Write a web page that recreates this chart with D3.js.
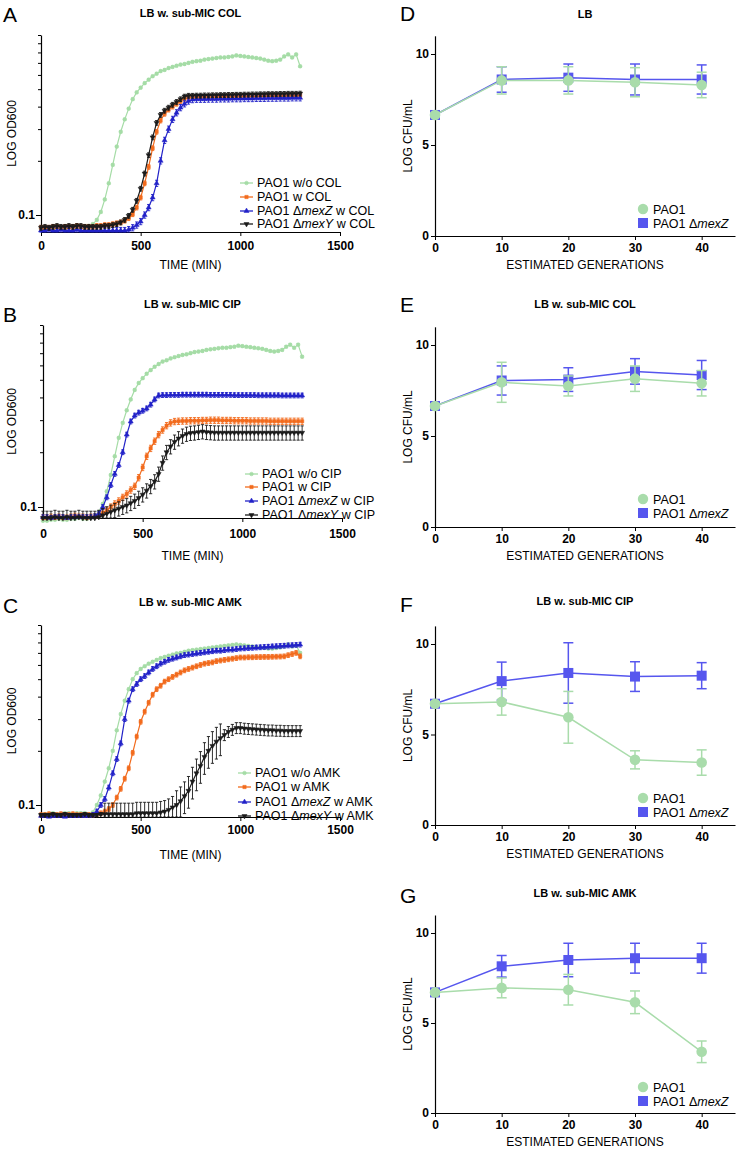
<!DOCTYPE html>
<html><head><meta charset="utf-8">
<script src="https://cdn.jsdelivr.net/npm/d3@7"></script>
<style>
body{margin:0;background:#fff}
svg{display:block}
text{font-family:"Liberation Sans",Arial,Helvetica,sans-serif;fill:#000}
</style>
</head><body>
<svg id="c" width="737" height="1150"></svg>
<script>
// ---------- growth curves (OD600), sampled every 20 min ----------
const timeMin = d3.range(0, 1301, 20);
const timeTicks = [0, 500, 1000, 1500];
const odTicks = [0.1, 0.2, 0.3, 0.4, 0.5, 0.6, 0.7, 0.8, 0.9, 1.0];

// Panel A: LB w. sub-MIC COL
const colPAO1wo = [0.084,0.084,0.085,0.085,0.086,0.085,0.085,0.086,0.086,0.087,0.086,0.086,0.087,0.089,0.094,0.104,0.122,0.15,0.19,0.24,0.29,0.34,0.39,0.44,0.48,0.51,0.54,0.565,0.59,0.61,0.63,0.64,0.655,0.665,0.675,0.685,0.69,0.70,0.71,0.715,0.72,0.73,0.735,0.74,0.745,0.75,0.75,0.755,0.76,0.77,0.765,0.76,0.755,0.75,0.745,0.74,0.73,0.72,0.715,0.72,0.73,0.76,0.78,0.75,0.78,0.67];
const colPAO1w = [0.085,0.085,0.085,0.086,0.086,0.085,0.086,0.086,0.086,0.087,0.086,0.086,0.086,0.086,0.087,0.087,0.088,0.088,0.089,0.09,0.091,0.093,0.096,0.101,0.11,0.125,0.15,0.185,0.235,0.29,0.335,0.365,0.385,0.4,0.415,0.43,0.442,0.45,0.452,0.452,0.453,0.453,0.454,0.454,0.455,0.455,0.455,0.456,0.456,0.457,0.457,0.457,0.458,0.458,0.458,0.459,0.459,0.46,0.46,0.46,0.461,0.461,0.462,0.462,0.462,0.463];
const colMexZ = [0.082,0.082,0.083,0.082,0.082,0.083,0.082,0.082,0.082,0.083,0.082,0.082,0.082,0.082,0.082,0.082,0.082,0.082,0.082,0.082,0.082,0.082,0.083,0.085,0.088,0.092,0.1,0.11,0.125,0.15,0.2,0.26,0.3,0.34,0.37,0.395,0.415,0.43,0.438,0.44,0.44,0.44,0.441,0.441,0.441,0.442,0.442,0.442,0.443,0.443,0.443,0.444,0.444,0.444,0.445,0.445,0.445,0.446,0.446,0.446,0.447,0.447,0.447,0.448,0.448,0.448];
const colMexY = [0.085,0.086,0.085,0.086,0.087,0.086,0.086,0.087,0.086,0.087,0.087,0.086,0.086,0.086,0.086,0.086,0.087,0.087,0.088,0.089,0.091,0.094,0.099,0.107,0.12,0.14,0.17,0.215,0.27,0.325,0.36,0.38,0.395,0.41,0.425,0.44,0.455,0.46,0.46,0.461,0.461,0.462,0.462,0.463,0.463,0.464,0.464,0.465,0.465,0.466,0.466,0.467,0.467,0.468,0.468,0.469,0.469,0.47,0.47,0.47,0.471,0.471,0.472,0.472,0.472,0.473];
const colRelErr = [0.015, 0.03, 0.04, 0.03];

// Panel B: LB w. sub-MIC CIP
const cipPAO1wo = [0.084,0.084,0.085,0.085,0.086,0.085,0.085,0.086,0.086,0.087,0.086,0.086,0.087,0.089,0.094,0.104,0.122,0.15,0.19,0.24,0.29,0.34,0.39,0.44,0.48,0.51,0.54,0.565,0.59,0.61,0.63,0.64,0.655,0.665,0.675,0.685,0.69,0.70,0.71,0.715,0.72,0.73,0.735,0.74,0.745,0.75,0.75,0.755,0.76,0.77,0.765,0.76,0.755,0.75,0.745,0.74,0.73,0.72,0.715,0.72,0.73,0.76,0.78,0.75,0.78,0.67];
const cipPAO1w = [0.087,0.087,0.088,0.087,0.088,0.087,0.087,0.088,0.089,0.088,0.088,0.087,0.088,0.088,0.09,0.093,0.096,0.1,0.104,0.108,0.113,0.118,0.124,0.13,0.145,0.165,0.19,0.21,0.23,0.25,0.265,0.28,0.29,0.295,0.296,0.297,0.297,0.298,0.298,0.298,0.299,0.299,0.3,0.3,0.3,0.299,0.299,0.299,0.298,0.298,0.298,0.298,0.297,0.297,0.297,0.297,0.297,0.296,0.296,0.296,0.296,0.296,0.296,0.296,0.296,0.296];
const cipMexZ = [0.088,0.088,0.087,0.088,0.088,0.088,0.087,0.088,0.088,0.088,0.088,0.088,0.088,0.089,0.092,0.1,0.113,0.132,0.152,0.17,0.2,0.25,0.295,0.318,0.33,0.338,0.348,0.365,0.39,0.41,0.412,0.412,0.413,0.413,0.413,0.414,0.414,0.414,0.414,0.414,0.414,0.414,0.413,0.413,0.413,0.413,0.413,0.413,0.412,0.412,0.412,0.412,0.412,0.412,0.411,0.411,0.411,0.411,0.411,0.411,0.41,0.41,0.41,0.41,0.41,0.41];
const cipMexY = [0.087,0.087,0.087,0.088,0.087,0.087,0.088,0.087,0.087,0.088,0.087,0.087,0.087,0.087,0.088,0.09,0.092,0.094,0.096,0.098,0.1,0.102,0.105,0.108,0.112,0.117,0.123,0.13,0.138,0.152,0.175,0.2,0.215,0.228,0.238,0.246,0.252,0.255,0.256,0.258,0.26,0.258,0.257,0.256,0.256,0.256,0.256,0.256,0.256,0.256,0.256,0.256,0.256,0.256,0.256,0.256,0.256,0.256,0.256,0.256,0.256,0.256,0.256,0.256,0.256,0.256];
const cipRelErr = [0.015, 0.04, 0.03, 0.09];

// Panel C: LB w. sub-MIC AMK
const amkPAO1wo = [0.088,0.089,0.089,0.09,0.089,0.089,0.09,0.09,0.089,0.09,0.09,0.09,0.089,0.091,0.1,0.113,0.135,0.16,0.2,0.26,0.32,0.38,0.44,0.5,0.54,0.57,0.59,0.61,0.625,0.64,0.655,0.665,0.675,0.685,0.695,0.7,0.71,0.72,0.725,0.73,0.735,0.74,0.745,0.75,0.755,0.76,0.765,0.77,0.775,0.78,0.775,0.77,0.765,0.76,0.755,0.75,0.745,0.74,0.74,0.745,0.75,0.76,0.78,0.76,0.77,0.7];
const amkPAO1w = [0.088,0.088,0.089,0.088,0.088,0.089,0.088,0.088,0.089,0.088,0.088,0.088,0.088,0.088,0.089,0.09,0.092,0.095,0.1,0.11,0.123,0.14,0.16,0.195,0.24,0.29,0.33,0.37,0.41,0.44,0.46,0.485,0.5,0.515,0.53,0.545,0.56,0.57,0.58,0.59,0.6,0.61,0.615,0.62,0.63,0.635,0.64,0.645,0.65,0.655,0.66,0.66,0.662,0.662,0.664,0.664,0.665,0.665,0.666,0.667,0.668,0.67,0.68,0.69,0.70,0.67];
const amkMexZ = [0.087,0.087,0.086,0.087,0.087,0.087,0.086,0.087,0.087,0.087,0.087,0.087,0.087,0.088,0.092,0.1,0.108,0.125,0.15,0.18,0.22,0.3,0.38,0.44,0.47,0.5,0.52,0.545,0.57,0.59,0.61,0.625,0.64,0.65,0.66,0.67,0.68,0.685,0.69,0.695,0.7,0.705,0.71,0.715,0.72,0.72,0.725,0.73,0.73,0.735,0.74,0.742,0.745,0.747,0.75,0.752,0.755,0.757,0.76,0.762,0.765,0.767,0.77,0.772,0.775,0.778];
const amkMexY = [0.088,0.088,0.088,0.089,0.088,0.088,0.089,0.088,0.088,0.088,0.088,0.089,0.088,0.088,0.088,0.089,0.089,0.089,0.089,0.089,0.089,0.089,0.089,0.089,0.09,0.09,0.09,0.09,0.09,0.09,0.091,0.092,0.094,0.097,0.1,0.105,0.112,0.12,0.135,0.15,0.165,0.185,0.2,0.213,0.225,0.235,0.245,0.255,0.262,0.268,0.268,0.266,0.265,0.264,0.263,0.262,0.261,0.26,0.26,0.259,0.259,0.258,0.258,0.258,0.258,0.258];
// relative error of the ΔmexY AMK curve, per time point (large during lag/rise)
const amkMexYErr = [0.02,0.02,0.02,0.02,0.02,0.02,0.02,0.02,0.02,0.02,0.02,0.02,0.02,0.02,0.02,0.02,0.15,0.15,0.15,0.15,0.15,0.15,0.15,0.15,0.15,0.15,0.15,0.15,0.15,0.15,0.15,0.15,0.15,0.15,0.2,0.2,0.2,0.2,0.2,0.2,0.2,0.2,0.2,0.2,0.2,0.2,0.07,0.07,0.07,0.07,0.07,0.07,0.07,0.07,0.07,0.07,0.07,0.07,0.07,0.07,0.07,0.07,0.07,0.07,0.07,0.07];
const amkRelErr = [0.015, 0.03, 0.03, amkMexYErr];

// ---------- CFU panels ----------
const generations = [0, 10, 20, 30, 40];
const genTicks = [0, 10, 20, 30, 40];
const cfuTicks = [0, 5, 10];
const lbPAO1 = [6.65, 8.55, 8.55, 8.45, 8.3];
const lbPAO1sd = [0.1, 0.75, 0.75, 0.8, 0.7];
const lbMexZ = [6.65, 8.6, 8.7, 8.6, 8.6];
const lbMexZsd = [0.1, 0.7, 0.75, 0.85, 0.8];
const colCfuPAO1 = [6.65, 7.95, 7.75, 8.15, 7.9];
const colCfuPAO1sd = [0.1, 1.1, 0.55, 0.7, 0.7];
const colCfuMexZ = [6.65, 8.05, 8.1, 8.55, 8.35];
const colCfuMexZsd = [0.1, 0.8, 0.65, 0.7, 0.8];
const cipCfuPAO1 = [6.7, 6.8, 5.95, 3.6, 3.45];
const cipCfuPAO1sd = [0.1, 0.73, 1.43, 0.5, 0.7];
const cipCfuMexZ = [6.7, 7.95, 8.4, 8.2, 8.25];
const cipCfuMexZsd = [0.1, 1.05, 1.67, 0.82, 0.72];
const amkCfuPAO1 = [6.7, 6.95, 6.85, 6.15, 3.4];
const amkCfuPAO1sd = [0.1, 0.55, 0.85, 0.63, 0.6];
const amkCfuMexZ = [6.7, 8.15, 8.5, 8.6, 8.6];
const amkCfuMexZsd = [0.1, 0.6, 0.93, 0.83, 0.83];

const svg = d3.select('#c');
const FONT = '"Liberation Sans",Arial,Helvetica,sans-serif';
const gCol = {green:'#a5dca6', orange:'#f26b1d', blue:'#2222c8', black:'#1b1b1b'};
const cCol = {green:'#a9dcab', blue:'#5656ee'};

function styleAxis(a){
  a.select('.domain').attr('stroke','#000').attr('stroke-width',1.2);
  a.selectAll('.tick line').attr('stroke','#000').attr('stroke-width',1);
  a.selectAll('.tick text').attr('font-size','12px').attr('font-weight','bold').attr('font-family',FONT).attr('fill','#000');
}

function labelParts(sel, parts){
  parts.forEach(p => {
    sel.append('tspan').text(p[0]).attr('font-style', p[1] ? 'italic' : 'normal');
  });
}

function marker(g, shape, color, cx, cy){
  const sym = {circle:d3.symbolCircle, square:d3.symbolSquare, tri:d3.symbolTriangle, tridown:d3.symbolTriangle}[shape];
  g.append('path').attr('d', d3.symbol().type(sym).size(11)())
    .attr('transform', `translate(${cx},${cy})` + (shape==='tridown' ? ' rotate(180)' : ''))
    .attr('fill', color).attr('stroke', color).attr('stroke-width',0.5);
}

function growth(c){
  const g = svg.append('g');
  const x = d3.scaleLinear().domain([0,1500]).range([c.x0, c.x1]);
  const base = d3.scaleLog().domain([0.1,1]).range([c.y01, c.yTop]);
  const low = base.invert(c.yBot);
  const y = d3.scaleLog().domain([low,1]).range([c.yBot, c.yTop]);

  const ax = g.append('g').attr('transform',`translate(0,${c.yBot})`)
    .call(d3.axisBottom(x).tickValues(timeTicks).tickSize(4).tickSizeOuter(0).tickPadding(c.xPad).tickFormat(d3.format('d')));
  styleAxis(ax);
  const ay = g.append('g').attr('transform',`translate(${c.x0},0)`)
    .call(d3.axisLeft(y).tickValues(odTicks).tickSize(3).tickSizeOuter(0).tickPadding(3).tickFormat(d => d === 0.1 ? '0.1' : ''));
  styleAxis(ay);
  ay.selectAll('.tick line').attr('x2', d => d === 0.1 ? -5 : -3);

  g.append('text').attr('x', (c.x0+c.x1)/2).attr('y', c.titleY).attr('text-anchor','middle')
    .attr('font-size','11px').attr('font-weight','bold').text(c.title);
  g.append('text').attr('x', 3).attr('y', c.letterY).attr('font-size','21px').text(c.letter);
  g.append('text').attr('x', (c.x0+c.x1)/2).attr('y', c.xTitleY).attr('text-anchor','middle')
    .attr('font-size','12px').text('TIME (MIN)');
  g.append('text').attr('transform',`translate(16,${(c.yTop+c.yBot)/2}) rotate(-90)`).attr('text-anchor','middle')
    .attr('font-size','12px').text('LOG OD600');

  const line = d3.line().x((d,i) => x(timeMin[i])).y(d => y(d));
  c.series.forEach((s, si) => {
    const sg = g.append('g');
    const n = Math.min(s.values.length, timeMin.length);
    const vals = s.values.slice(0, n);
    sg.append('path').attr('d', line(vals)).attr('fill','none').attr('stroke', s.color).attr('stroke-width',1.2);
    vals.forEach((v, i) => {
      const xx = x(timeMin[i]);
      const e = Array.isArray(s.err) ? s.err[i] : s.err;
      const lo = y(Math.max(low, v*(1 - e))), hi = y(v*(1 + e));
      sg.append('line').attr('x1',xx).attr('x2',xx).attr('y1',lo).attr('y2',hi).attr('stroke',s.color).attr('stroke-width',0.9);
      sg.append('line').attr('x1',xx-1.6).attr('x2',xx+1.6).attr('y1',hi).attr('y2',hi).attr('stroke',s.color).attr('stroke-width',0.9);
      sg.append('line').attr('x1',xx-1.6).attr('x2',xx+1.6).attr('y1',lo).attr('y2',lo).attr('stroke',s.color).attr('stroke-width',0.9);
      marker(sg, s.shape, s.color, xx, y(v));
    });
    const ly = c.legendY[si];
    const lg = g.append('g');
    lg.append('line').attr('x1', c.legendX).attr('x2', c.legendX+13).attr('y1', ly).attr('y2', ly).attr('stroke', s.color).attr('stroke-width',1.3);
    marker(lg, s.shape, s.color, c.legendX+6.5, ly);
    const t = lg.append('text').attr('x', c.legendX+17).attr('y', ly+4.3).attr('font-size','12.5px');
    labelParts(t, s.label);
  });
}

function cfu(c){
  const g = svg.append('g');
  const x = d3.scaleLinear().domain([0,45]).range([435, 735]);
  const y10 = d3.scaleLinear().domain([0,10]).range([c.y0, c.y10]);
  const y = d3.scaleLinear().domain([0,11]).range([c.y0, y10(11)]);

  const ax = g.append('g').attr('transform',`translate(0,${c.y0})`)
    .call(d3.axisBottom(x).tickValues(genTicks).tickSize(4).tickSizeOuter(0).tickPadding(3));
  styleAxis(ax);
  const ay = g.append('g').attr('transform',`translate(435,0)`)
    .call(d3.axisLeft(y).tickValues(cfuTicks).tickSize(4).tickSizeOuter(0).tickPadding(2));
  styleAxis(ay);

  g.append('text').attr('x', 585).attr('y', c.titleY).attr('text-anchor','middle')
    .attr('font-size','11px').attr('font-weight','bold').text(c.title);
  g.append('text').attr('x', 400).attr('y', c.letterY).attr('font-size','21px').text(c.letter);
  g.append('text').attr('x', 585).attr('y', c.y0 + 33).attr('text-anchor','middle')
    .attr('font-size','12px').text('ESTIMATED GENERATIONS');
  g.append('text').attr('transform',`translate(412,${(c.y0 + y(11))/2}) rotate(-90)`).attr('text-anchor','middle')
    .attr('font-size','12px').text('LOG CFU/mL');

  const line = d3.line().x((d,i) => x(generations[i])).y(d => y(d));
  const series = [
    {v:c.m, e:c.me, color:cCol.blue, shape:'square'},
    {v:c.p, e:c.pe, color:cCol.green, shape:'circle'}
  ];
  series.forEach(s => {
    const sg = g.append('g');
    sg.append('path').attr('d', line(s.v)).attr('fill','none').attr('stroke', s.color).attr('stroke-width',1.5);
    s.v.forEach((v,i) => {
      const xx = x(generations[i]);
      const lo = y(v - s.e[i]), hi = y(v + s.e[i]);
      sg.append('line').attr('x1',xx).attr('x2',xx).attr('y1',lo).attr('y2',hi).attr('stroke',s.color).attr('stroke-width',1.5);
      sg.append('line').attr('x1',xx-5).attr('x2',xx+5).attr('y1',hi).attr('y2',hi).attr('stroke',s.color).attr('stroke-width',1.5);
      sg.append('line').attr('x1',xx-5).attr('x2',xx+5).attr('y1',lo).attr('y2',lo).attr('stroke',s.color).attr('stroke-width',1.5);
      if (s.shape === 'square') {
        sg.append('rect').attr('x',xx-5).attr('y',y(v)-5).attr('width',10).attr('height',10).attr('fill',s.color);
      } else {
        sg.append('circle').attr('cx',xx).attr('cy',y(v)).attr('r',5.3).attr('fill',s.color);
      }
    });
  });
  const lg = g.append('g');
  lg.append('circle').attr('cx',643).attr('cy',c.legY).attr('r',5.2).attr('fill',cCol.green);
  lg.append('text').attr('x',653).attr('y',c.legY+4.5).attr('font-size','12.5px').text('PAO1');
  lg.append('rect').attr('x',638).attr('y',c.legY+14-5).attr('width',10).attr('height',10).attr('fill',cCol.blue);
  const t = lg.append('text').attr('x',653).attr('y',c.legY+14+4.5).attr('font-size','12.5px');
  labelParts(t, [['PAO1 Δ',false],['mexZ',true]]);
}

function gSeries(vals, err, name){
  return [
    {values:vals[0], err:err[0], color:gCol.green, shape:'circle', label:[[`PAO1 w/o ${name}`,false]]},
    {values:vals[1], err:err[1], color:gCol.orange, shape:'square', label:[[`PAO1 w ${name}`,false]]},
    {values:vals[2], err:err[2], color:gCol.blue, shape:'tri', label:[['PAO1 Δ',false],['mexZ',true],[` w ${name}`,false]]},
    {values:vals[3], err:err[3], color:gCol.black, shape:'tridown', label:[['PAO1 Δ',false],['mexY',true],[` w ${name}`,false]]}
  ];
}

growth({letter:'A', title:'LB w. sub-MIC COL', x0:41, x1:340, yTop:35, y01:215, yBot:232, xPad:5,
  titleY:17, letterY:22, xTitleY:269, legendX:240, legendY:[183,197,211,224],
  series:gSeries([colPAO1wo,colPAO1w,colMexZ,colMexY], colRelErr, 'COL')});
growth({letter:'B', title:'LB w. sub-MIC CIP', x0:43, x1:342, yTop:325, y01:507, yBot:518, xPad:7,
  titleY:308, letterY:322, xTitleY:560, legendX:245, legendY:[474,487,501,515],
  series:gSeries([cipPAO1wo,cipPAO1w,cipMexZ,cipMexY], cipRelErr, 'CIP')});
growth({letter:'C', title:'LB w. sub-MIC AMK', x0:41, x1:340, yTop:625, y01:805, yBot:817, xPad:4,
  titleY:606, letterY:613, xTitleY:859, legendX:238, legendY:[773,787,802,816],
  series:gSeries([amkPAO1wo,amkPAO1w,amkMexZ,amkMexY], amkRelErr, 'AMK')});

cfu({letter:'D', title:'LB', y0:236, y10:54, titleY:18, letterY:21, legY:209,
  p:lbPAO1, pe:lbPAO1sd, m:lbMexZ, me:lbMexZsd});
cfu({letter:'E', title:'LB w. sub-MIC COL', y0:527, y10:345, titleY:308, letterY:312, legY:499,
  p:colCfuPAO1, pe:colCfuPAO1sd, m:colCfuMexZ, me:colCfuMexZsd});
cfu({letter:'F', title:'LB w. sub-MIC CIP', y0:825, y10:644, titleY:605, letterY:612, legY:798,
  p:cipCfuPAO1, pe:cipCfuPAO1sd, m:cipCfuMexZ, me:cipCfuMexZsd});
cfu({letter:'G', title:'LB w. sub-MIC AMK', y0:1113, y10:933, titleY:897, letterY:903, legY:1087,
  p:amkCfuPAO1, pe:amkCfuPAO1sd, m:amkCfuMexZ, me:amkCfuMexZsd});
</script>
</body></html>
